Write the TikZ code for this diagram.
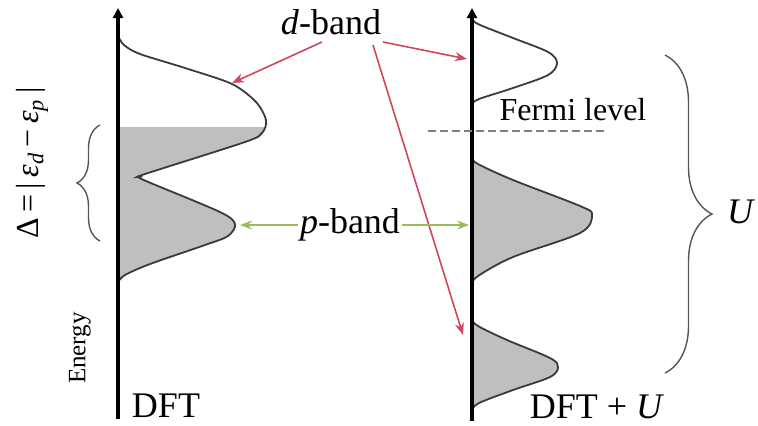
\documentclass[tikz,border=0pt]{standalone}
\usepackage{fontspec}
\setmainfont{Liberation Serif}
\usetikzlibrary{arrows.meta,decorations.pathreplacing}
\definecolor{curvecol}{HTML}{3A3A3A}
\definecolor{bandfill}{HTML}{BFBFBF}
\definecolor{dred}{HTML}{D0455A}
\definecolor{pgreen}{HTML}{9BBB59}
\definecolor{bracecol}{HTML}{555555}
\begin{document}
\begin{tikzpicture}[x=0.5pt,y=-0.5pt,
  axisline/.style={line width=2pt,-{Triangle[length=5pt,width=5pt]}},
  dos/.style={draw=curvecol,line width=0.9pt},
  lbl/.style={font=\fontsize{18}{21}\selectfont,inner sep=1pt},
  fermilbl/.style={font=\fontsize{16}{19}\selectfont,inner sep=1pt},
  redarrow/.style={draw=dred,line width=0.8pt,-{Stealth[length=6pt,width=4.5pt]}},
  greenarrow/.style={draw=pgreen,line width=0.8pt,-{Stealth[length=6pt,width=4.5pt]}},
  bracestyle/.style={draw=bracecol,line width=0.7pt,decorate},
]
\useasboundingbox (0,0) rectangle (758,425);

% ---------- left DOS (DFT) ----------
\begin{scope}
  \clip (100,127) rectangle (320,300);
  \fill[bandfill] plot[smooth,tension=0.5] coordinates {(118,36) (124,45) (140,54) (185,68) (232,84) (256,102) (266,120) (262,133) (245,142) (145,174) (140,177) (146,181) (220,212) (235,224) (228,236) (205,245) (150,264) (125,275) (118,282)} -- cycle;
\end{scope}
\draw[dos] plot[smooth,tension=0.5] coordinates {(118,36) (124,45) (140,54) (185,68) (232,84) (256,102) (266,120) (262,133) (245,142) (145,174) (140,177) (146,181) (220,212) (235,224) (228,236) (205,245) (150,264) (125,275) (118,282)};

% ---------- right DOS (DFT+U) ----------
\draw[dos] plot[smooth,tension=0.55] coordinates {(472,18) (478,24) (513,38) (548,52) (557,63) (548,75) (513,88) (479,99) (472,104)};
\filldraw[dos,fill=bandfill] plot[smooth,tension=0.55] coordinates {(472,158) (478,164) (513,180) (580,206) (592,215) (580,233) (513,257) (478,276) (472,284)};
\filldraw[dos,fill=bandfill] plot[smooth,tension=0.55] coordinates {(472,320) (478,326) (507,340) (550,358) (558,367) (550,377) (513,390) (479,403) (472,410)};

% ---------- axes ----------
\coordinate (L0) at (118,419);
\coordinate (L1) at (118,8);
\coordinate (R0) at (472,421);
\coordinate (R1) at (472,8);
\draw[axisline] (L0) -- (L1);
\draw[axisline] (R0) -- (R1);

% ---------- Fermi level ----------
\coordinate (fa) at (428,131);
\coordinate (fb) at (607,131);
\draw[gray,line width=0.6pt,dash pattern=on 4pt off 2pt] (fa) -- (fb);
\node[fermilbl] (fermi) at (573,110) {Fermi level};

% ---------- braces ----------
\coordinate (lb0) at (100,241);
\coordinate (lb1) at (100,125);
\draw[bracestyle,decoration={brace,amplitude=11.5pt}] (lb0) -- (lb1);
\coordinate (rb0) at (665,55);
\coordinate (rb1) at (665,373);
\draw[bracestyle,decoration={brace,amplitude=23.5pt}] (rb0) -- (rb1);

% ---------- labels ----------
\node[lbl] (dband) at (331,22) {\textit{d}-band};
\node[lbl] (pband) at (350,225) {\textit{p}-band};
\node[lbl] (dft) at (166,406) {DFT};
\node[lbl] (dftu) at (597,407) {DFT + \textit{U}};
\node[lbl] (ulbl) at (741,212) {\textit{U}};
\node[rotate=90,font=\fontsize{16}{19}\selectfont,inner sep=1pt] (delta) at (32,163)
  {Δ\,=\,|\,\textit{ε}\textsubscript{\textit{d}}\,−\,\textit{ε}\textsubscript{\textit{p}}\,|};
\node[rotate=90,font=\fontsize{12.5}{15}\selectfont,inner sep=1pt] (energy) at (80,348) {Energy};

% ---------- arrows ----------
\coordinate (d1s) at (322,42);
\coordinate (d1e) at (232,83);
\coordinate (d2s) at (383,42);
\coordinate (d2e) at (467,59);
\coordinate (d3s) at (373,45);
\coordinate (d3e) at (463,335);
\draw[redarrow] (d1s) -- (d1e);
\draw[redarrow] (d2s) -- (d2e);
\draw[redarrow] (d3s) -- (d3e);

\coordinate (p1e) at (240,225);
\coordinate (p2e) at (469,225);
\draw[greenarrow] (pband.west) -- (p1e);
\draw[greenarrow] (pband.east) -- (p2e);
\end{tikzpicture}
\end{document}
